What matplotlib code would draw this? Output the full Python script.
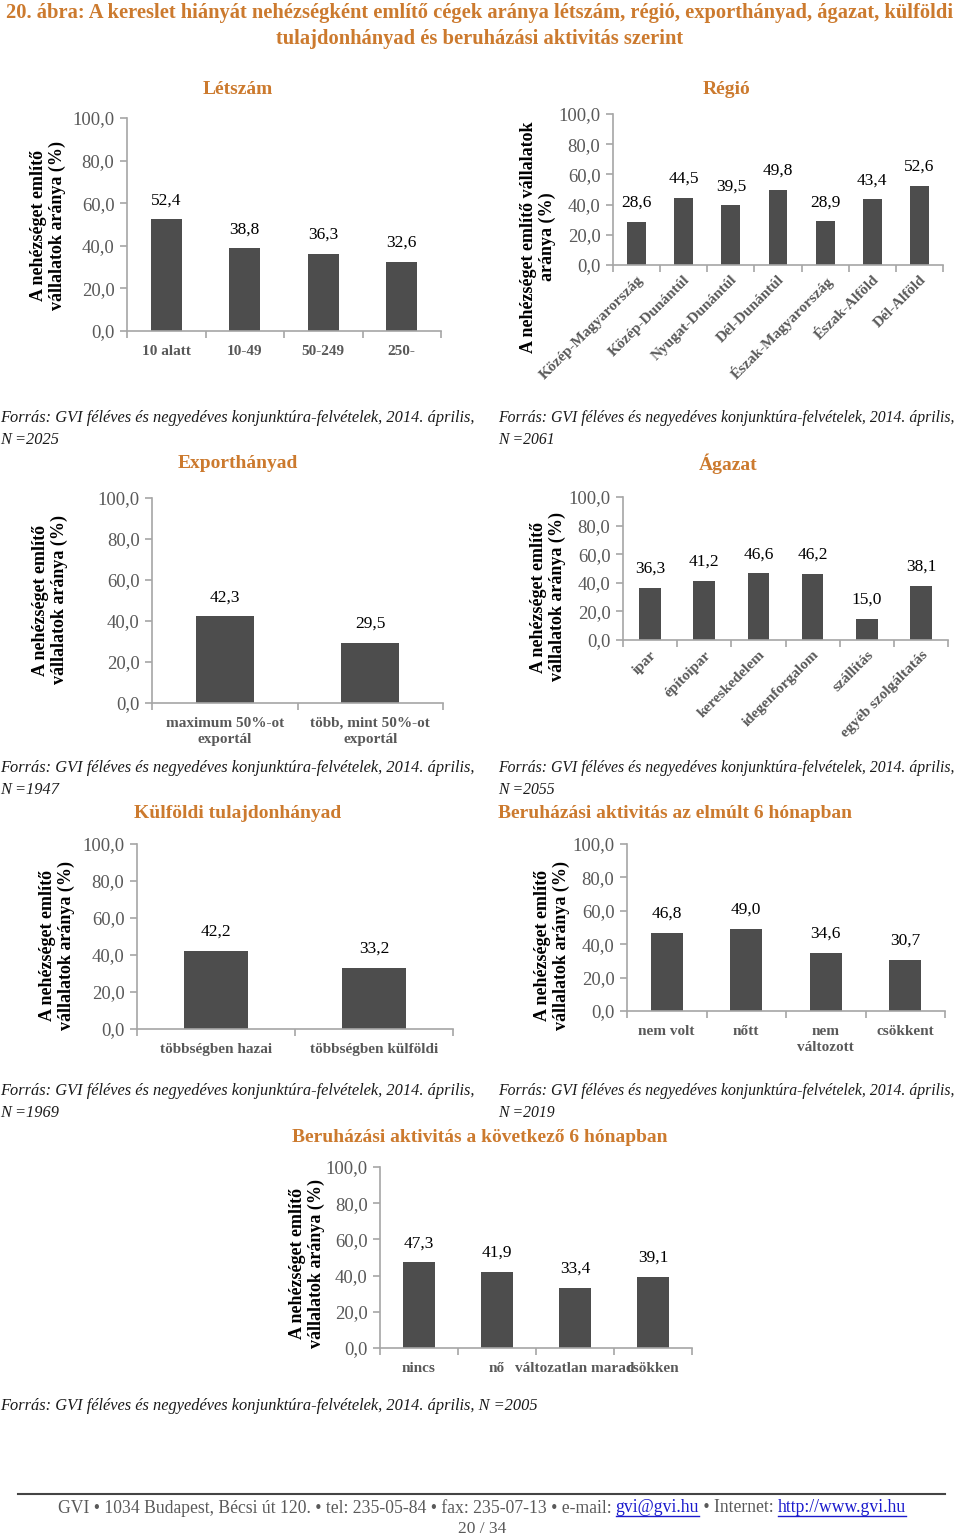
import matplotlib
matplotlib.use("Agg")
import matplotlib.pyplot as plt
from matplotlib.lines import Line2D

plt.rcParams['font.family'] = ['Liberation Serif', 'DejaVu Serif']

W, H = 960, 1540
ORANGE = '#cc7a2e'
BAR = '#4d4d4d'
GREY = '#595959'
SPINE = '#a6a6a6'

# --- data ---
letszam_cats = ['10 alatt', '10-49', '50-249', '250-']
letszam_vals = [52.4, 38.8, 36.3, 32.6]

regio_cats = ['Közép-Magyarország', 'Közép-Dunántúl', 'Nyugat-Dunántúl', 'Dél-Dunántúl',
              'Észak-Magyarország', 'Észak-Alföld', 'Dél-Alföld']
regio_vals = [28.6, 44.5, 39.5, 49.8, 28.9, 43.4, 52.6]

export_cats = ['maximum 50%-ot\nexportál', 'több, mint 50%-ot\nexportál']
export_vals = [42.3, 29.5]

agazat_cats = ['ipar', 'építoipar', 'kereskedelem', 'idegenforgalom', 'szállítás', 'egyéb szolgáltatás']
agazat_vals = [36.3, 41.2, 46.6, 46.2, 15.0, 38.1]

kulfoldi_cats = ['többségben hazai', 'többségben külföldi']
kulfoldi_vals = [42.2, 33.2]

elmult_cats = ['nem volt', 'nőtt', 'nem\nváltozott', 'csökkent']
elmult_vals = [46.8, 49.0, 34.6, 30.7]

kov_cats = ['nincs', 'nő', 'változatlan marad', 'csökken']
kov_vals = [47.3, 41.9, 33.4, 39.1]

yticks = [0, 20, 40, 60, 80, 100]
ylab = 'A nehézséget említő\nvállalatok aránya (%)'
ylab_regio = 'A nehézséget említő vállalatok\naránya (%)'
forras = 'Forrás: GVI féléves és negyedéves konjunktúra-felvételek, 2014. április,'


def fx(x):
    return x / W


def fy(y):
    return 1 - y / H


def fmt(v):
    return f'{v:.1f}'.replace('.', ',')


def panel(fig, left, top, right, bottom, cats, vals, title, title_xy, ylabel, ylabel_xy,
          rotate=False, title_ha='center'):
    ax = fig.add_axes([fx(left), fy(bottom), fx(right) - fx(left), fy(top) - fy(bottom)])
    n = len(cats)
    x = list(range(n))
    ax.bar(x, vals, width=0.4, color=BAR, zorder=2)
    ax.set_xlim(-0.5, n - 0.5)
    ax.set_ylim(0, 100)
    for s in ['top', 'right']:
        ax.spines[s].set_visible(False)
    for s in ['left', 'bottom']:
        ax.spines[s].set_color(SPINE)
        ax.spines[s].set_linewidth(1.2)
    ax.set_yticks(yticks)
    ax.set_yticklabels([fmt(t) for t in yticks], fontsize=13.5, color=GREY)
    ax.tick_params(axis='y', colors=SPINE, labelcolor=GREY, length=5, width=1.2, pad=4)
    ax.set_xticks(x)
    ax.set_xticks([i - 0.5 for i in range(n + 1)], minor=True)
    ax.tick_params(axis='x', which='major', length=0, pad=10)
    ax.tick_params(axis='x', which='minor', length=5, width=1.2, colors=SPINE)
    if rotate:
        ax.set_xticklabels(cats, rotation=45, ha='right', rotation_mode='anchor',
                           fontsize=11, fontweight='bold', color=GREY)
        ax.tick_params(axis='x', which='major', pad=6)
    else:
        ax.set_xticklabels(cats, fontsize=11, fontweight='bold', color=GREY, linespacing=1.3)
    for xi, v in zip(x, vals):
        ax.annotate(fmt(v), (xi, v), xytext=(0, 8), textcoords='offset points',
                    ha='center', va='bottom', fontsize=12.5, color='black')
    fig.text(fx(title_xy[0]), fy(title_xy[1]), title, ha=title_ha, va='center',
             fontsize=14, fontweight='bold', color=ORANGE)
    fig.text(fx(ylabel_xy[0]), fy(ylabel_xy[1]), ylabel, rotation=90, ha='center', va='center',
             fontsize=13, fontweight='bold', color='black', multialignment='center',
             linespacing=1.1)
    return ax


def source(fig, x, y, nline, size=11.8):
    fig.text(fx(x), fy(y), forras, ha='left', va='center', fontsize=size, style='italic', color='#1a1a1a')
    fig.text(fx(x), fy(y + 22), nline, ha='left', va='center', fontsize=size, style='italic', color='#1a1a1a')


fig = plt.figure(figsize=(W / 100, H / 100), dpi=100)

fig.text(fx(480), fy(13), '20. ábra: A kereslet hiányát nehézségként említő cégek aránya létszám, régió, '
         'exporthányad, ágazat, külföldi', ha='center', va='center', fontsize=14.8,
         fontweight='bold', color=ORANGE)
fig.text(fx(480), fy(39), 'tulajdonhányad és beruházási aktivitás szerint', ha='center', va='center',
         fontsize=14.8, fontweight='bold', color=ORANGE)

panel(fig, 127, 118, 441, 331, letszam_cats, letszam_vals, 'Létszám', (238, 89), ylab, (48, 225))
panel(fig, 613, 114, 943, 265, regio_cats, regio_vals, 'Régió', (727, 89), ylab_regio, (538, 237),
      rotate=True)
source(fig, 0, 418, 'N =2025')
source(fig, 498, 418, 'N =2061', size=11.3)

panel(fig, 152, 498, 443, 703, export_cats, export_vals, 'Exporthányad', (238, 464), ylab, (50, 600))
panel(fig, 623, 497, 948, 640, agazat_cats, agazat_vals, 'Ágazat', (728, 464), ylab, (548, 597),
      rotate=True)
source(fig, 0, 768, 'N =1947')
source(fig, 498, 768, 'N =2055', size=11.3)

panel(fig, 137, 844, 453, 1029, kulfoldi_cats, kulfoldi_vals, 'Külföldi tulajdonhányad', (238, 814),
      ylab, (57, 945))
panel(fig, 627, 844, 945, 1011, elmult_cats, elmult_vals, 'Beruházási aktivitás az elmúlt 6 hónapban',
      (498, 814), ylab, (552, 945), title_ha='left')
source(fig, 0, 1091, 'N =1969')
source(fig, 498, 1091, 'N =2019', size=11.3)

panel(fig, 380, 1167, 692, 1348, kov_cats, kov_vals, 'Beruházási aktivitás a következő 6 hónapban',
      (480, 1137), ylab, (307, 1263))
fig.text(0, fy(1406), forras + ' N =2005', ha='left', va='center', fontsize=11.8, style='italic',
         color='#1a1a1a')

# footer
fig.add_artist(Line2D([fx(18), fx(945)], [fy(1494), fy(1494)], color='#444444', lw=1.5))
parts = [('GVI • 1034 Budapest, Bécsi út 120. • tel: 235-05-84 • fax: 235-07-13 • e-mail: ', GREY, False),
         ('gvi@gvi.hu', '#1a1acc', True),
         (' • Internet: ', GREY, False),
         ('http://www.gvi.hu', '#1a1acc', True)]
fig.canvas.draw()
r = fig.canvas.get_renderer()
texts = []
total = 0
for s, c, u in parts:
    t = fig.text(0, fy(1508), s, ha='left', va='center', fontsize=12.7, color=c)
    w = t.get_window_extent(r).width
    texts.append((t, w, u))
    total += w
xpos = 482 - total / 2
for t, w, u in texts:
    t.set_x(fx(xpos))
    if u:
        fig.add_artist(Line2D([fx(xpos), fx(xpos + w)], [fy(1516), fy(1516)], color='#1a1acc', lw=1))
    xpos += w
fig.text(fx(482), fy(1529), '20 / 34', ha='center', va='center', fontsize=12.5, color=GREY)

fig.savefig('out.png', dpi=100)
